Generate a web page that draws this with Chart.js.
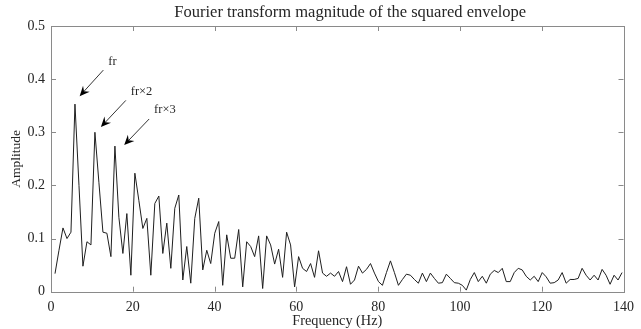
<!DOCTYPE html>
<html>
<head>
<meta charset="utf-8">
<script src="https://cdn.jsdelivr.net/npm/chart.js@4/dist/chart.umd.min.js"></script>
<style>
  html, body { margin: 0; padding: 0; background: #fff; }
  #spectrum { display: block; }
</style>
</head>
<body>
<canvas id="spectrum" width="641" height="329"></canvas>
<script>
// FFT bin frequencies (Hz), df = 1000 / 1024
const freqs = [
  0.98, 1.95, 2.93, 3.91, 4.88, 5.86, 6.84, 7.81, 8.79, 9.77,
  10.74, 11.72, 12.70, 13.67, 14.65, 15.63, 16.60, 17.58, 18.55, 19.53,
  20.51, 21.48, 22.46, 23.44, 24.41, 25.39, 26.37, 27.34, 28.32, 29.30,
  30.27, 31.25, 32.23, 33.20, 34.18, 35.16, 36.13, 37.11, 38.09, 39.06,
  40.04, 41.02, 41.99, 42.97, 43.95, 44.92, 45.90, 46.88, 47.85, 48.83,
  49.80, 50.78, 51.76, 52.73, 53.71, 54.69, 55.66, 56.64, 57.62, 58.59,
  59.57, 60.55, 61.52, 62.50, 63.48, 64.45, 65.43, 66.41, 67.38, 68.36,
  69.34, 70.31, 71.29, 72.27, 73.24, 74.22, 75.20, 76.17, 77.15, 78.13,
  79.10, 80.08, 81.05, 82.03, 83.01, 83.98, 84.96, 85.94, 86.91, 87.89,
  88.87, 89.84, 90.82, 91.80, 92.77, 93.75, 94.73, 95.70, 96.68, 97.66,
  98.63, 99.61, 100.59, 101.56, 102.54, 103.52, 104.49, 105.47, 106.45, 107.42,
  108.40, 109.38, 110.35, 111.33, 112.30, 113.28, 114.26, 115.23, 116.21, 117.19,
  118.16, 119.14, 120.12, 121.09, 122.07, 123.05, 124.02, 125.00, 125.98, 126.95,
  127.93, 128.91, 129.88, 130.86, 131.84, 132.81, 133.79, 134.77, 135.74, 136.72,
  137.70, 138.67, 139.65
];

// magnitude of the squared-envelope spectrum
const amplitude = [
  0.034, 0.078, 0.120, 0.100, 0.112, 0.353, 0.200, 0.048, 0.094, 0.088,
  0.300, 0.205, 0.112, 0.110, 0.066, 0.274, 0.140, 0.072, 0.147, 0.031,
  0.223, 0.172, 0.119, 0.138, 0.031, 0.166, 0.180, 0.072, 0.129, 0.044,
  0.157, 0.182, 0.022, 0.085, 0.016, 0.138, 0.176, 0.041, 0.078, 0.053,
  0.110, 0.132, 0.012, 0.107, 0.063, 0.063, 0.117, 0.009, 0.094, 0.085,
  0.066, 0.105, 0.006, 0.105, 0.088, 0.052, 0.080, 0.027, 0.112, 0.088,
  0.009, 0.066, 0.044, 0.038, 0.053, 0.027, 0.077, 0.035, 0.029, 0.035,
  0.029, 0.038, 0.019, 0.047, 0.014, 0.022, 0.048, 0.035, 0.042, 0.053,
  0.035, 0.019, 0.012, 0.036, 0.058, 0.036, 0.012, 0.023, 0.033, 0.031,
  0.023, 0.016, 0.035, 0.019, 0.035, 0.025, 0.016, 0.017, 0.033, 0.025,
  0.017, 0.016, 0.012, 0.003, 0.023, 0.036, 0.019, 0.029, 0.016, 0.033,
  0.040, 0.036, 0.044, 0.019, 0.019, 0.036, 0.044, 0.041, 0.029, 0.022,
  0.029, 0.019, 0.036, 0.028, 0.016, 0.017, 0.022, 0.036, 0.016, 0.023,
  0.023, 0.025, 0.044, 0.031, 0.022, 0.031, 0.022, 0.042, 0.031, 0.014,
  0.031, 0.022, 0.036
];

const xTicks = [0, 20, 40, 60, 80, 100, 120, 140];
const yTicks = [0, 0.1, 0.2, 0.3, 0.4, 0.5];

// harmonic markers: label, label anchor, arrow tail, arrow tip (data units)
const markerLabels = ['fr', 'fr\u00d72', 'fr\u00d73'];
const markerText = [[14.0, 0.432], [19.5, 0.376], [25.2, 0.342]];
const markerTail = [[12.8, 0.417], [18.3, 0.360], [24.0, 0.325]];
const markerTip = [[7.0, 0.368], [12.2, 0.310], [17.9, 0.276]];

const chartTitle = 'Fourier transform magnitude of the squared envelope';

const FONT = '"Liberation Serif", "Times New Roman", serif';
const AXIS_GREY = '#8a8a8a';
const TEXT = '#262626';

// title sits a little right of the axes centre, like the original figure
const titlePlugin = {
  id: 'figTitle',
  afterDraw(chart) {
    const {ctx, chartArea: a} = chart;
    ctx.save();
    ctx.fillStyle = TEXT;
    ctx.font = '16.5px ' + FONT;
    ctx.textAlign = 'center';
    ctx.textBaseline = 'middle';
    ctx.fillText(chartTitle, (a.left + a.right) / 2 + 13, a.top - 13);
    ctx.restore();
  }
};

// box around the axes with inward ticks on all four sides
const framePlugin = {
  id: 'frame',
  afterDatasetsDraw(chart) {
    const {ctx, chartArea: a, scales: {x, y}} = chart;
    const len = 5;
    ctx.save();
    ctx.strokeStyle = AXIS_GREY;
    ctx.lineWidth = 1;
    ctx.beginPath();
    xTicks.forEach(v => {
      const px = Math.round(x.getPixelForValue(v)) + 0.5;
      ctx.moveTo(px, a.bottom); ctx.lineTo(px, a.bottom - len);
      ctx.moveTo(px, a.top); ctx.lineTo(px, a.top + len);
    });
    yTicks.forEach(v => {
      const py = Math.round(y.getPixelForValue(v)) + 0.5;
      ctx.moveTo(a.left, py); ctx.lineTo(a.left + len, py);
      ctx.moveTo(a.right, py); ctx.lineTo(a.right - len, py);
    });
    ctx.stroke();
    ctx.strokeRect(Math.round(a.left) + 0.5, Math.round(a.top) + 0.5,
      Math.round(a.right - a.left), Math.round(a.bottom - a.top));
    ctx.restore();
  }
};

// arrows pointing at the rotation frequency and its harmonics
const markerPlugin = {
  id: 'markers',
  afterDatasetsDraw(chart) {
    const {ctx, scales: {x, y}} = chart;
    const px = p => [x.getPixelForValue(p[0]), y.getPixelForValue(p[1])];
    ctx.save();
    ctx.strokeStyle = '#000';
    ctx.lineWidth = 0.8;
    ctx.font = '12.5px ' + FONT;
    ctx.textBaseline = 'middle';
    ctx.textAlign = 'left';
    markerLabels.forEach((label, i) => {
      const [tx, ty] = px(markerTail[i]);
      const [hx, hy] = px(markerTip[i]);
      const ang = Math.atan2(hy - ty, hx - tx);
      const cos = Math.cos(ang), sin = Math.sin(ang);
      const L = 10, W = 4.5, notch = 6.5;
      const bx = hx - L * cos, by = hy - L * sin;
      const nx = hx - notch * cos, ny = hy - notch * sin;
      ctx.beginPath();
      ctx.moveTo(tx, ty);
      ctx.lineTo(nx, ny);
      ctx.stroke();
      ctx.fillStyle = '#000';
      ctx.beginPath();
      ctx.moveTo(hx, hy);
      ctx.lineTo(bx - W * sin, by + W * cos);
      ctx.lineTo(nx, ny);
      ctx.lineTo(bx + W * sin, by - W * cos);
      ctx.closePath();
      ctx.fill();
      const [lx, ly] = px(markerText[i]);
      ctx.fillStyle = TEXT;
      ctx.fillText(label, lx, ly);
    });
    ctx.restore();
  }
};

new Chart(document.getElementById('spectrum'), {
  type: 'line',
  data: {
    datasets: [{
      data: freqs.map((f, i) => ({x: f, y: amplitude[i]})),
      borderColor: '#1f1f1f',
      borderWidth: 1,
      pointRadius: 0,
      tension: 0,
      fill: false
    }]
  },
  options: {
    responsive: false,
    animation: false,
    events: [],
    layout: {padding: {left: 0, right: 11.7, top: 26, bottom: 0}},
    plugins: {
      legend: {display: false},
      tooltip: {enabled: false},
      title: {display: false}
    },
    scales: {
      x: {
        type: 'linear',
        min: 0,
        max: 140,
        grid: {display: false, drawTicks: false},
        border: {display: false},
        afterBuildTicks: s => { s.ticks = xTicks.map(v => ({value: v})); },
        ticks: {
          color: TEXT,
          padding: 7,
          maxRotation: 0,
          font: {family: FONT, size: 14}
        },
        title: {
          display: true,
          text: 'Frequency (Hz)',
          color: TEXT,
          font: {family: FONT, size: 14.3, lineHeight: 1.2},
          padding: {top: 0, bottom: -1}
        },
        afterFit: s => { s.height = 37.3; }
      },
      y: {
        min: 0,
        max: 0.5,
        grid: {display: false, drawTicks: false},
        border: {display: false},
        afterBuildTicks: s => { s.ticks = yTicks.map(v => ({value: v})); },
        ticks: {
          color: TEXT,
          padding: 6,
          font: {family: FONT, size: 14},
          callback: v => String(Math.round(v * 10) / 10)
        },
        title: {
          display: true,
          text: 'Amplitude',
          color: TEXT,
          font: {family: FONT, size: 13.5, lineHeight: 1.2},
          padding: {top: 8.5, bottom: 0}
        },
        afterFit: s => { s.width = 51; }
      }
    }
  },
  plugins: [framePlugin, markerPlugin, titlePlugin]
});
</script>
</body>
</html>
